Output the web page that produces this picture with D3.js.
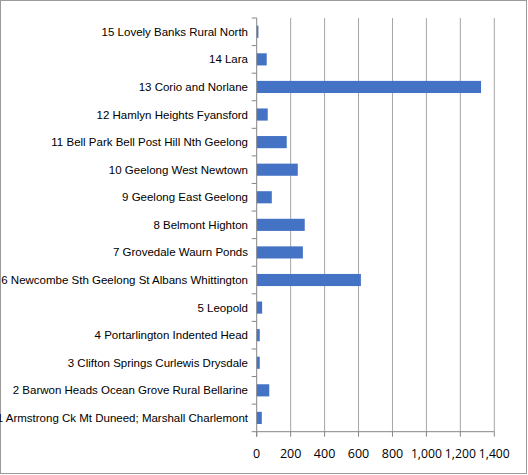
<!DOCTYPE html>
<html><head><meta charset="utf-8">
<script src="https://cdn.jsdelivr.net/npm/d3@7"></script>
<style>body{margin:0;background:#fff}</style>
</head><body>
<div id="chart"></div>
<script>
const WIDTH = 528, HEIGHT = 475;

// categories top to bottom as drawn
const categories = [
  "15 Lovely Banks Rural North",
  "14 Lara",
  "13 Corio and Norlane",
  "12 Hamlyn Heights Fyansford",
  "11 Bell Park Bell Post Hill Nth Geelong",
  "10 Geelong West Newtown",
  "9 Geelong East Geelong",
  "8 Belmont Highton",
  "7 Grovedale Waurn Ponds",
  "6 Newcombe Sth Geelong St Albans Whittington",
  "5 Leopold",
  "4 Portarlington Indented Head",
  "3 Clifton Springs Curlewis Drysdale",
  "2 Barwon Heads Ocean Grove Rural Bellarine",
  "1 Armstrong Ck Mt Duneed; Marshall Charlemont"
];
const values = [10, 59, 1322, 65, 177, 242, 89, 283, 272, 614, 32, 18, 18, 74, 30];
const xTicks = [0, 200, 400, 600, 800, 1000, 1200, 1400];

let svg = d3.select("#chart").append("svg")
  .attr("width", WIDTH).attr("height", HEIGHT);

svg.append("rect").attr("x", 0.5).attr("y", 0.5)
  .attr("width", WIDTH - 2).attr("height", HEIGHT - 2)
  .attr("fill", "none").attr("stroke", "#9a9a9a");

const plotLeft = 256.7, plotRight = 494.3, plotTop = 18, plotBottom = 431.7;
const x = d3.scaleLinear().domain([0, 1400]).range([plotLeft, plotRight]);
const y = d3.scaleBand().domain(categories).range([plotTop, plotBottom]).paddingInner(0.56).paddingOuter(0.28);

//gridlines
svg.append("g").selectAll("line").data(xTicks.slice(1)).enter().append("line")
  .attr("x1", d => x(d)).attr("x2", d => x(d))
  .attr("y1", plotTop).attr("y2", plotBottom)
  .attr("stroke", "#a6a6a6").attr("stroke-width", 1);

//bars
svg.append("g").selectAll("rect").data(categories).enter().append("rect")
  .attr("x", x(0))
  .attr("y", d => y(d))
  .attr("width", (d, i) => x(values[i]) - x(0))
  .attr("height", y.bandwidth())
  .attr("fill", "#4472c4");

//axes lines
svg.append("line").attr("x1", x(0)).attr("x2", x(0)).attr("y1", plotTop).attr("y2", plotBottom + 5)
  .attr("stroke", "#868686");
svg.append("line").attr("x1", x(0)).attr("x2", plotRight).attr("y1", plotBottom).attr("y2", plotBottom)
  .attr("stroke", "#868686");
//category ticks
const step = (plotBottom - plotTop) / categories.length;
svg.append("g").selectAll("line").data(d3.range(categories.length + 1)).enter().append("line")
  .attr("x1", x(0) - 5).attr("x2", x(0))
  .attr("y1", d => plotTop + d * step).attr("y2", d => plotTop + d * step)
  .attr("stroke", "#868686");
//x ticks
svg.append("g").selectAll("line").data(xTicks).enter().append("line")
  .attr("x1", d => x(d)).attr("x2", d => x(d)).attr("y1", plotBottom).attr("y2", plotBottom + 5)
  .attr("stroke", "#868686");

const fmt = d3.format(",");
svg.append("g").selectAll("text").data(xTicks).enter().append("text")
  .attr("x", d => x(d)).attr("y", plotBottom + 26)
  .attr("text-anchor", "middle")
  .style("font-family", "Open Sans, sans-serif").style("font-size", "12.5px")
  .attr("textLength", d => d >= 1000 ? 31 : null)
  .attr("lengthAdjust", "spacingAndGlyphs")
  .attr("fill", "#000").text(d => fmt(d));

svg.append("g").selectAll("text").data(categories).enter().append("text")
  .attr("x", 248).attr("y", d => y(d) + y.bandwidth() / 2 + 4)
  .attr("text-anchor", "end")
  .style("font-family", "Liberation Sans Narrow, Liberation Sans, sans-serif").style("font-size", "11.5px")
  .attr("fill", "#000").text(d => d);
</script>
</body></html>
